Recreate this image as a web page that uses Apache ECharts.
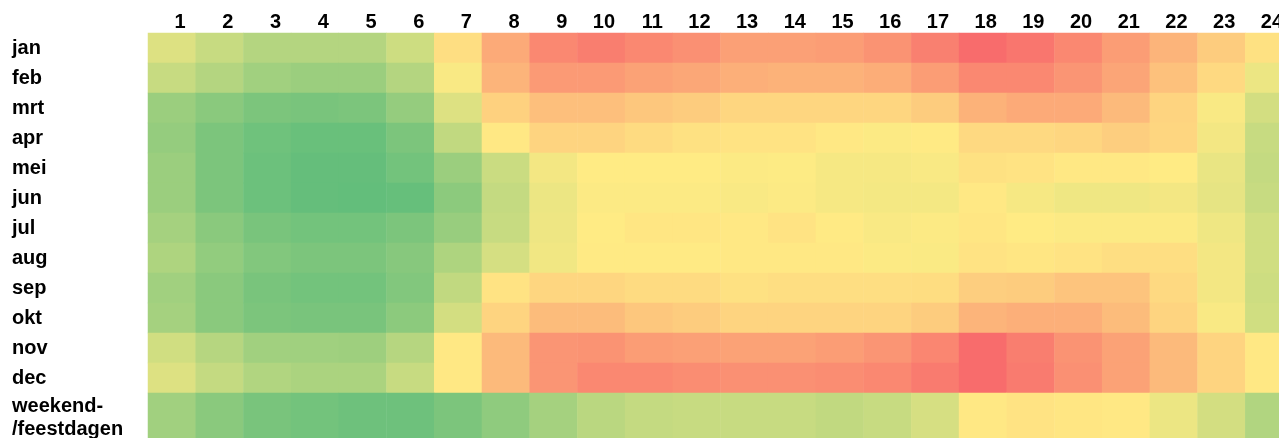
<!DOCTYPE html>
<html>
<head>
<meta charset="utf-8">
<script src="https://cdn.jsdelivr.net/npm/echarts@6/dist/echarts.min.js"></script>
<style>
  html, body { margin: 0; padding: 0; background: #ffffff; }
  #chart { width: 1279px; height: 438px; }
</style>
</head>
<body>
<div id="chart"></div>
<script>
// Hour column labels
const hours = ['1','2','3','4','5','6','7','8','9','10','11','12','13','14','15','16','17','18','19','20','21','22','23','24'];
// Row labels
const months = ['jan','feb','mrt','apr','mei','jun','jul','aug','sep','okt','nov','dec'];
const weekendLabel = ['weekend-\n/feestdagen'];

// Relative level per hour (0 = lowest / green, 50 = median / yellow, 100 = highest / red)
const jan = [39,32,26,26,26,34,55,75,88,92,88,85,79,79,80,84,91,99,95,88,80,71,62,54];
const feb = [32,26,20,18,18,26,48,71,81,81,78,76,73,72,72,74,80,88,88,83,77,66,57,44];
const mrt = [18,12.5,8,7,8,16,39,60,67,67,64,62,58,58,58,58,62,72,75,75,69,59,48,36];
const apr = [16,8,4,2,2,8,30,51,59,59,56,54,53,53,51,49,50.5,57,57,58,61,58,46,32];
const mei = [18,8,3,0.5,0.5,5,18,33,46,50,50,50,49,49.5,47,47,48,54,53,51,51,50,43,31];
const jun = [18,8,3,0.5,0,1,13,31,44,49,49,49,48,49,47,46.5,46.5,51,47,45,45,46,42,32];
const jul = [21,12.5,7,5,5,8,17,32,44.5,50,52,52,51,53,50.5,48,49,52,50,49,49,49,45,35];
const aug = [24,15,10,8,8,11.5,24,36.5,45.5,50.5,50.5,50.5,51,51,51,49,48.5,53,52,53,55,55,46,35];
const sep = [20,12.5,7,5,5,10,30,53,58,58,56,56,54,55,55,55,55.5,61,62,65,65,57,46,34];
const okt = [21,12.5,8,7,7,13,36,59,68,68,64,62,59,59,59,59,62,71,73,73,68,59,48,35];
const nov = [35,26.5,20,19.5,19,26.5,51,69,83,84,80,79,78,78,80,83,89,99,92,84,78,69,59,51];
const dec = [39,31,25,23,23,32,51,69,83,88,88,86,85,85,86,88,93,99,93,85,78,69,59,51];
const weekend = [20,12.5,7,5,3.5,3.5,8,14,21,28,31,32,32,32,30,32,37,51,53,52,51,44,36,25];

const monthRows = [jan, feb, mrt, apr, mei, jun, jul, aug, sep, okt, nov, dec];

const monthData = [];
monthRows.forEach((row, i) => row.forEach((v, j) => monthData.push([j, i, v])));
const weekendData = weekend.map((v, j) => [j, 0, v]);

const FONT = 'Arial, "Liberation Sans", sans-serif';
const labelStyle = { fontFamily: FONT, fontWeight: 'bold', fontSize: 20, color: '#000000' };

const chart = echarts.init(document.getElementById('chart'), null, { renderer: 'canvas' });
chart.setOption({
  animation: false,
  backgroundColor: '#ffffff',
  grid: [
    { left: 148, top: 33, width: 1145, height: 360, containLabel: false, outerBoundsMode: 'none' },
    { left: 148, top: 393, width: 1145, height: 50, containLabel: false, outerBoundsMode: 'none' }
  ],
  xAxis: [
    { type: 'category', data: hours, gridIndex: 0, position: 'bottom', show: false },
    {
      type: 'value', gridIndex: 0, position: 'top', min: 0, max: 24, interval: 1,
      axisLine: { show: false }, axisTick: { show: false }, splitLine: { show: false },
      axisLabel: Object.assign({
        align: 'right', padding: [0, 10, 0, 0], margin: 1,
        showMinLabel: true, showMaxLabel: true,
        formatter: v => (v > 0 ? hours[v - 1] : '')
      }, labelStyle)
    },
    { type: 'category', data: hours, gridIndex: 1, show: false }
  ],
  yAxis: [
    {
      type: 'category', data: months, gridIndex: 0, inverse: true,
      axisLine: { show: false }, axisTick: { show: false }, splitLine: { show: false },
      axisLabel: Object.assign({ align: 'left', margin: 136 }, labelStyle)
    },
    {
      type: 'category', data: weekendLabel, gridIndex: 1,
      axisLine: { show: false }, axisTick: { show: false }, splitLine: { show: false },
      axisLabel: Object.assign({ align: 'left', margin: 136, lineHeight: 23 }, labelStyle)
    }
  ],
  visualMap: {
    show: false, type: 'continuous', min: 0, max: 100, seriesIndex: [0, 1],
    inRange: { color: ['#63BE7B', '#FFEB84', '#F8696B'] }
  },
  series: [
    { type: 'heatmap', xAxisIndex: 0, yAxisIndex: 0, data: monthData, itemStyle: { borderWidth: 0 }, emphasis: { disabled: true } },
    { type: 'heatmap', xAxisIndex: 2, yAxisIndex: 1, data: weekendData, itemStyle: { borderWidth: 0 }, emphasis: { disabled: true } }
  ]
});
</script>
</body>
</html>
